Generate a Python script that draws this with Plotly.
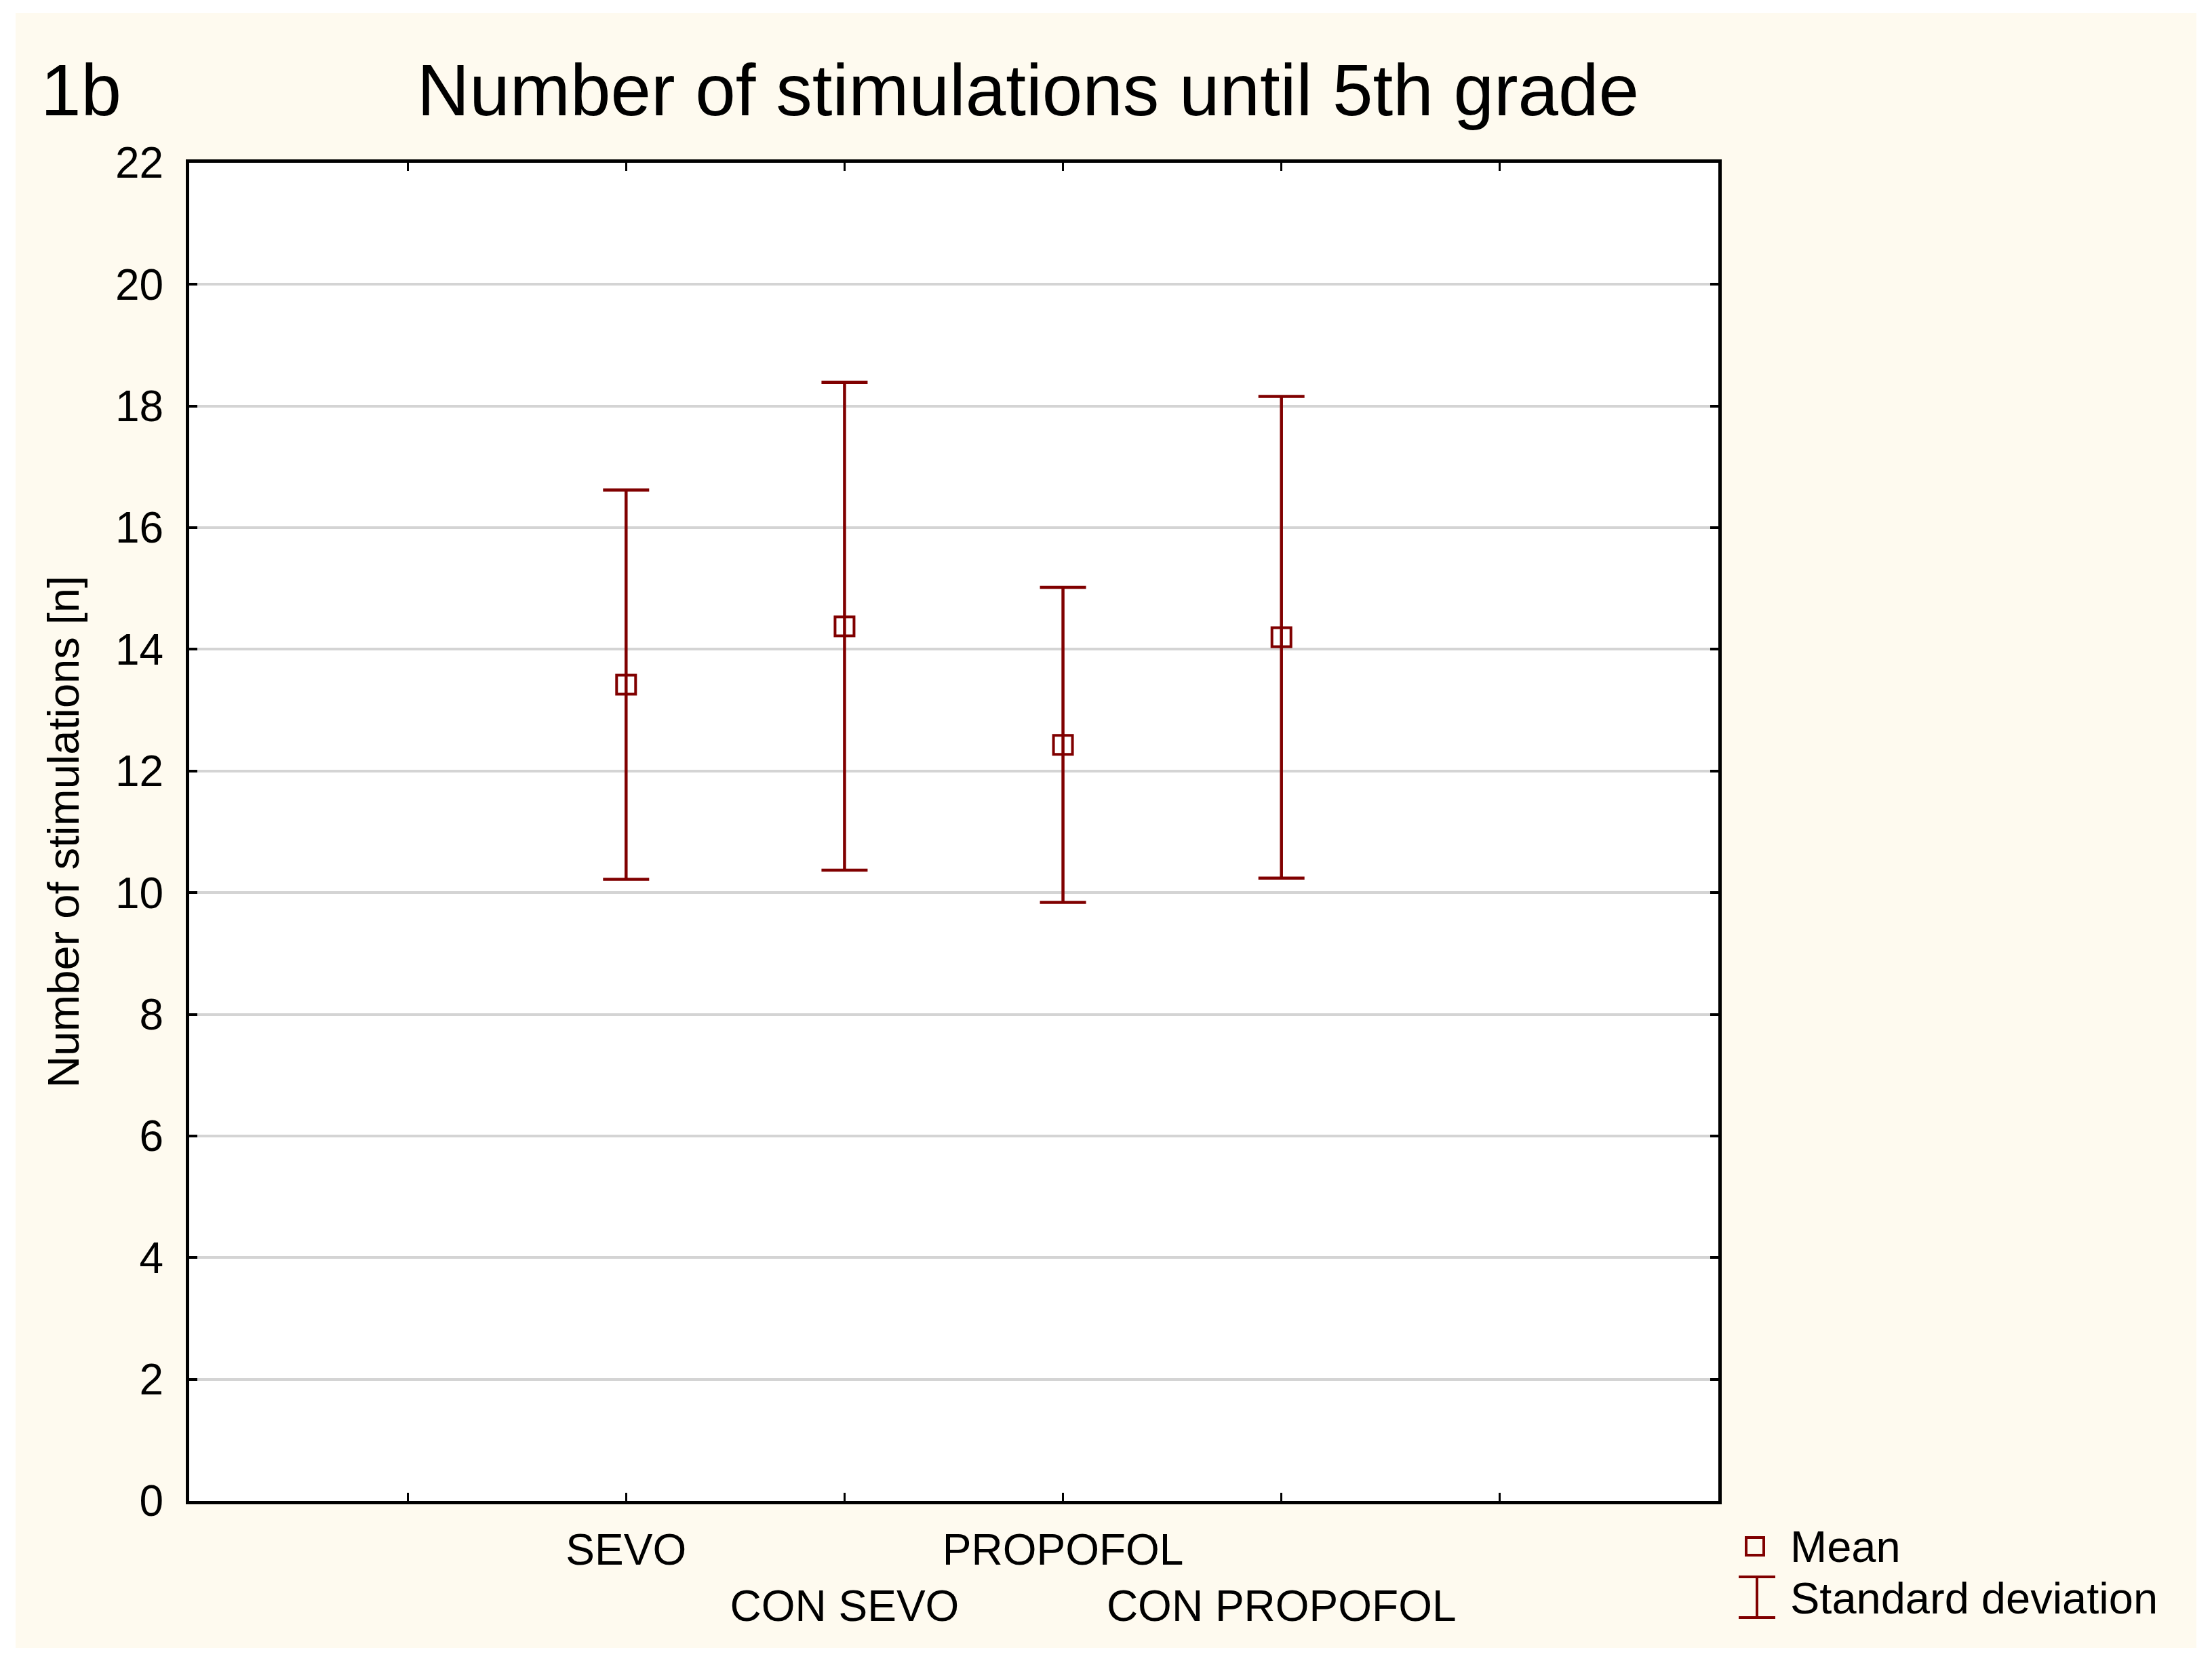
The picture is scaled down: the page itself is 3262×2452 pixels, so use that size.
import plotly.graph_objects as go

# ---- data ----
groups = ["SEVO", "CON SEVO", "PROPOFOL", "CON PROPOFOL"]
means = [13.42, 14.38, 12.43, 14.20]
sds = [3.20, 4.01, 2.59, 3.96]
label_rows = [0, 1, 0, 1]          # staggered category labels
y_ticks = list(range(0, 23, 2))
legend_labels = ["Mean", "Standard deviation"]
title_text = "Number of stimulations until 5th grade"
panel_text = "1b"
y_title = "Number of stimulations [n]"

# ---- geometry ----
W, H = 3262, 2452
L, R, T, B = 279, 2534, 240, 2213
RED = "#800000"
FONT = "Liberation Sans, Arial, sans-serif"


def px(x):
    return (x - L) / (R - L)


def py(y):
    return (B - y) / (B - T)


x_pos = [i + 2 for i in range(len(groups))]
tickvals = [1] + x_pos + [x_pos[-1] + 1]
ticktext = [""] + [("<br>" if r else "") + g for g, r in zip(groups, label_rows)] + [""]

fig = go.Figure()
fig.add_trace(go.Scatter(
    x=x_pos, y=means, mode="markers",
    marker=dict(symbol="square-open", size=28, color=RED,
                line=dict(width=4, color=RED)),
    error_y=dict(type="data", array=sds, visible=True, color=RED,
                 thickness=4.5, width=34),
    showlegend=False, hoverinfo="skip",
))

shapes = [
    dict(type="rect", xref="paper", yref="paper",
         x0=px(23), x1=px(3239), y0=py(2430), y1=py(19),
         fillcolor="#FEFAEF", line=dict(width=0), layer="below"),
    dict(type="rect", xref="paper", yref="paper",
         x0=0, x1=1, y0=0, y1=1,
         fillcolor="white", line=dict(width=0), layer="below"),
    # legend glyphs
    dict(type="rect", xref="paper", yref="paper",
         x0=px(2575), x1=px(2601), y0=py(2293), y1=py(2267),
         line=dict(color=RED, width=4), fillcolor="rgba(0,0,0,0)"),
    dict(type="line", xref="paper", yref="paper",
         x0=px(2591), x1=px(2591), y0=py(2385), y1=py(2325),
         line=dict(color=RED, width=4)),
    dict(type="line", xref="paper", yref="paper",
         x0=px(2564), x1=px(2618), y0=py(2325), y1=py(2325),
         line=dict(color=RED, width=4)),
    dict(type="line", xref="paper", yref="paper",
         x0=px(2564), x1=px(2618), y0=py(2385), y1=py(2385),
         line=dict(color=RED, width=4)),
]

annotations = [
    dict(text=title_text, xref="paper", yref="paper", x=px(1516), y=py(133),
         xanchor="center", yanchor="middle", showarrow=False,
         font=dict(size=107, color="black", family=FONT)),
    dict(text=panel_text, xref="paper", yref="paper", x=px(58), y=py(133),
         xanchor="left", yanchor="middle", showarrow=False,
         font=dict(size=107, color="black", family=FONT)),
    dict(text=y_title, xref="paper", yref="paper", x=px(93), y=py(1227),
         xanchor="center", yanchor="middle", textangle=-90, showarrow=False,
         font=dict(size=65, color="black", family=FONT)),
    dict(text=legend_labels[0], xref="paper", yref="paper", x=px(2638), y=py(2280),
         xanchor="left", yanchor="middle", showarrow=False,
         font=dict(size=65, color="black", family=FONT)),
    dict(text=legend_labels[1], xref="paper", yref="paper", x=px(2638), y=py(2356),
         xanchor="left", yanchor="middle", showarrow=False,
         font=dict(size=65, color="black", family=FONT)),
]

fig.update_layout(
    width=W, height=H,
    margin=dict(l=L, r=W - R, t=T, b=H - B, autoexpand=False),
    paper_bgcolor="white", plot_bgcolor="white",
    font=dict(family=FONT, color="black"),
    showlegend=False,
    shapes=shapes, annotations=annotations,
    xaxis=dict(range=[0, x_pos[-1] + 2], tickmode="array", tickvals=tickvals,
               ticktext=ticktext, tickangle=0, ticks="inside", ticklen=12, tickwidth=3,
               tickcolor="black", showline=True, linewidth=5, linecolor="black",
               mirror="ticks", showgrid=False, zeroline=False,
               tickfont=dict(size=64, color="black", family=FONT),
               ticklabelstandoff=12),
    yaxis=dict(range=[0, 22], tickmode="array", tickvals=y_ticks,
               ticks="inside", ticklen=12, tickwidth=4, tickcolor="black",
               showline=True, linewidth=5, linecolor="black", mirror="ticks",
               showgrid=True, gridcolor="#D4D4D4", gridwidth=3.5, zeroline=False,
               tickfont=dict(size=64, color="black", family=FONT),
               ticklabelstandoff=20),
)

fig.write_html("out.html", config={"displayModeBar": False},
               post_script="document.body.style.margin='0px';")
